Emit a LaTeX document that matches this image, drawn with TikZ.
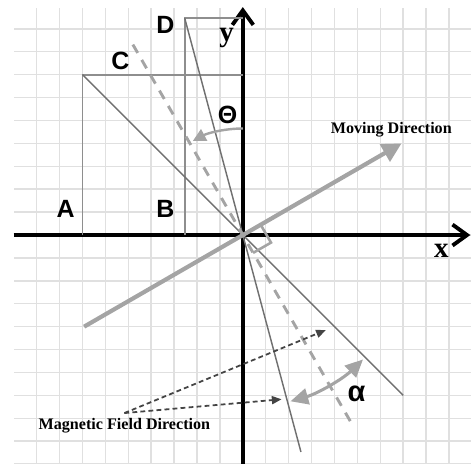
\documentclass[tikz,border=0pt]{standalone}
\usepackage{fontspec}
\setmainfont{Liberation Serif}
\newfontfamily\labelfont{Liberation Sans}
\usepackage{xcolor}
\usetikzlibrary{arrows.meta,positioning,calc}

\definecolor{gridgray}{HTML}{E0E0E0}
\definecolor{boxgray}{HTML}{8E8E8E}
\definecolor{rodgray}{HTML}{707070}
\definecolor{softgray}{HTML}{A4A4A4}
\definecolor{notegray}{HTML}{444444}

\begin{document}
\begin{tikzpicture}[x=0.5cm, y=0.5cm, >=Latex,
    axis/.style={line width=2.4pt, -{Straight Barb[length=9pt,width=13pt,line width=2.4pt]}},
    boxline/.style={boxgray, line width=1.1pt},
    rod/.style={rodgray, line width=0.9pt},
    lbl/.style={font=\labelfont\bfseries\fontsize{15.5}{17}\selectfont},
    axlbl/.style={font=\bfseries\fontsize{18}{20}\selectfont},
    note/.style={font=\bfseries\fontsize{10}{12}\selectfont},
    notearrow/.style={notegray, line width=1.1pt, dash pattern=on 3pt off 2pt, -{Triangle[length=6pt,width=5pt]}}]
        \useasboundingbox (-10.6,-9.96) rectangle (9.96,10.26);

        % Grid
        \draw[gridgray, line width=0.9pt, step=0.5cm] (-9.99,-10) grid (10,9.9);

        % Points
        \coordinate (O) at (0,0);
        \coordinate (C) at (-7,7);
        \coordinate (D) at (105:9.8);
        \coordinate (A) at (C |- O);
        \coordinate (B) at (D |- O);
        \coordinate (Cy) at (O |- C);
        \coordinate (Dy) at (O |- D);
        \coordinate (Cend) at (-45:9.9);
        \coordinate (Dend) at (-75:9.8);
        \coordinate (dashtop) at (120:9.6);
        \coordinate (dashbot) at (-60:9.6);
        \coordinate (movetail) at (210:8);
        \coordinate (movehead) at (30:8);

        % Axes
        \coordinate (xstart) at (-10,0);
        \coordinate (xend) at (9.93,0);
        \coordinate (ystart) at (0,-10);
        \coordinate (yend) at (0,9.95);
        \draw[axis] (xstart) -- (xend);
        \draw[axis] (ystart) -- (yend);

        % Projections of C and D
        \draw[boxline] (A) -- (C) -- (Cy);
        \draw[boxline] (B) -- (D) -- (Dy);

        % Field lines through the origin
        \draw[rod] (C) -- (Cend);
        \draw[rod] (D) -- (Dend);
        \draw[softgray, line width=1.8pt, dash pattern=on 6pt off 5pt] (dashtop) -- (dashbot);

        % Moving direction and right angle
        \draw[softgray, line width=2.6pt, -{Triangle[length=12pt,width=12pt]}] (movetail) -- (movehead);
        \draw[softgray, line width=1.6pt] ($(O)+(30:0.9)$) -- ++(-60:0.9) -- ++(210:0.9);

        % Angles
        \coordinate (th1) at (90:4.65);
        \draw[softgray, line width=1.5pt, -{Triangle[length=8pt,width=8pt]}] (th1) arc[start angle=90, end angle=118, radius=4.65];
        \coordinate (al1) at (-74:7.55);
        \draw[softgray, line width=1.9pt, {Triangle[length=11pt,width=10pt]}-{Triangle[length=11pt,width=10pt]}] (al1) arc[start angle=-74, end angle=-46, radius=7.55];

        % Labels
        \node[lbl] (labA) at (-7.74,1.12) {A};
        \node[lbl] (labB) at (-3.38,1.12) {B};
        \node[lbl] (labC) at (-5.34,7.6) {C};
        \node[lbl] (labD) at (-3.38,9.17) {D};
        \node[axlbl] (labx) at (8.67,-0.7) {x};
        \node[axlbl] (laby) at (-0.71,8.6) {y};
        \node[lbl] (labtheta) at (-0.67,5.24) {Θ};
        \node[lbl, font=\labelfont\bfseries\fontsize{18}{20}\selectfont] (labalpha) at (4.96,-6.95) {α};

        % Direction notes
        \node[note] (move) at (6.48,4.59) {Moving Direction};
        \node[note] (mag) at (-5.17,-8.34) {Magnetic Field Direction};
        \coordinate (magtip1) at (3.62,-4.15);
        \coordinate (magtip2) at (1.69,-7.17);
        \draw[notearrow] (mag.north) -- (magtip1);
        \draw[notearrow] (mag.north) -- (magtip2);
    \end{tikzpicture}
\end{document}
